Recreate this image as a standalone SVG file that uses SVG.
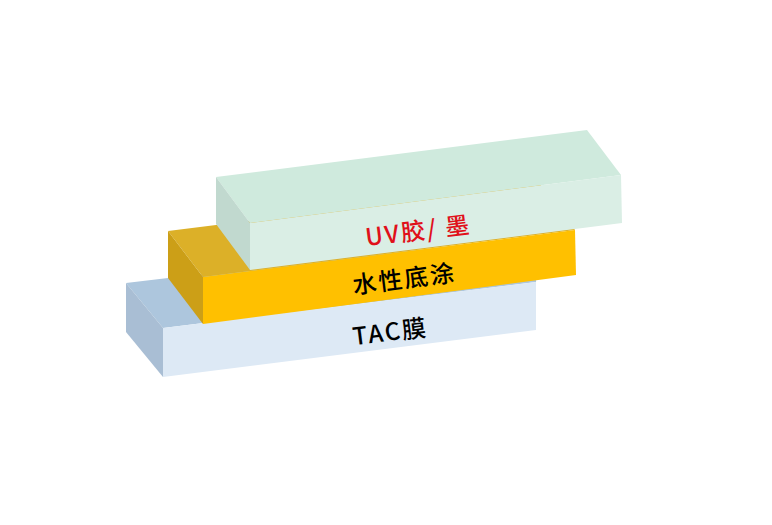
<svg xmlns="http://www.w3.org/2000/svg" width="772" height="525" viewBox="0 0 772 525">
<style>
.lbl{font-family:"Noto Sans CJK SC","Noto Sans",sans-serif;font-size:24px;font-weight:500;text-anchor:middle;dominant-baseline:central;letter-spacing:2px}
</style>
<rect width="772" height="525" fill="#ffffff"/>
<g id="tac">
<polygon points="126,283 168,278 540,236 536,282 163,328" fill="#adc6dd"/>
<polygon points="126,283 163,328 163,377 126,332" fill="#a9bed4"/>
<polygon points="163,328 536,282 536,330 163,377" fill="#dde9f5"/>
<text class="lbl" fill="#000000" transform="translate(390,330) rotate(-7.2)">TAC膜</text>
</g>
<g id="primer">
<polygon points="168,231 540,184 575,230 203,277" fill="#dcb028"/>
<polygon points="168,231 203,277 203,324 168,278" fill="#cc9f17"/>
<polygon points="203,277 575,230 576,275 203,324" fill="#ffc000"/>
<text class="lbl" fill="#000000" transform="translate(404,277) rotate(-7.2)">水性底涂</text>
</g>
<g id="uv">
<polygon points="216,177 587,130 621,175 250,223" fill="#cfeadd"/>
<polygon points="216,177 250,223 250,270 216,224" fill="#c1d9cf"/>
<polygon points="250,223 621,175 622,223 250,270" fill="#daeee5"/>
<text class="lbl" fill="#e0101a" transform="translate(418,229) rotate(-7.2)">UV胶/ 墨</text>
</g>
<g id="connectors"/>
</svg>
